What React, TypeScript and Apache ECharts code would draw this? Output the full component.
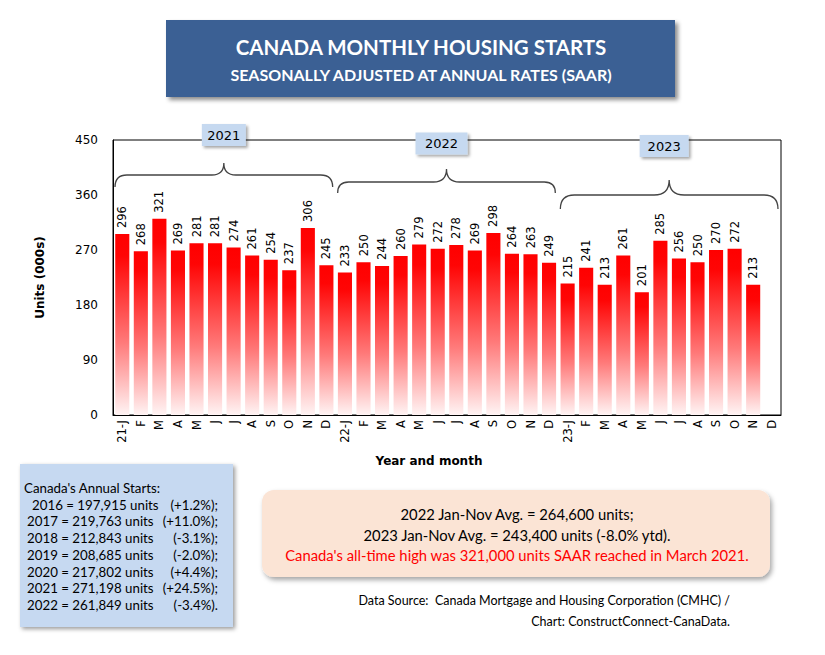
import React, { useEffect, useRef } from "react";
import * as echarts from "echarts";

const categories = [
  "21-J", "F", "M", "A", "M", "J", "J", "A", "S", "O", "N", "D",
  "22-J", "F", "M", "A", "M", "J", "J", "A", "S", "O", "N", "D",
  "23-J", "F", "M", "A", "M", "J", "J", "A", "S", "O", "N", "D",
];
const starts2021 = [296, 268, 321, 269, 281, 281, 274, 261, 254, 237, 306, 245];
const starts2022 = [233, 250, 244, 260, 279, 272, 278, 269, 298, 264, 263, 249];
const starts2023 = [215, 241, 213, 261, 201, 285, 256, 250, 270, 272, 213, null];
const years = ["2021", "2022", "2023"];
const yMin = 0;
const yMax = 450;
const yInterval = 90;

const titleMain = "CANADA MONTHLY HOUSING STARTS";
const titleSub = "SEASONALLY ADJUSTED AT ANNUAL RATES (SAAR)";
const annualHeader = "Canada's Annual Starts:";
const annualUnits = [
  "2016 = 197,915 units",
  "2017 = 219,763 units",
  "2018 = 212,843 units",
  "2019 = 208,685 units",
  "2020 = 217,802 units",
  "2021 = 271,198 units",
  "2022 = 261,849 units",
];
const annualPct = ["(+1.2%);", "(+11.0%);", "(-3.1%);", "(-2.0%);", "(+4.4%);", "(+24.5%);", "(-3.4%)."];
const noteLines = [
  "2022 Jan-Nov Avg. = 264,600 units;",
  "2023 Jan-Nov Avg. = 243,400 units (-8.0% ytd).",
];
const noteRed = "Canada's all-time high was 321,000 units SAAR reached in March 2021.";
const sourceLines = [
  "Data Source:  Canada Mortgage and Housing Corporation (CMHC) /",
  "Chart: ConstructConnect-CanaData.",
];

const W = 825;
const H = 655;
const GRID_LEFT = 113;
const GRID_RIGHT = 781;
const GRID_TOP = 140;
const GRID_BOTTOM = 415;

const braceGeom = [
  { tip: 163, line: 175, end: 187, box: { cy: 135, w: 44 } },
  { tip: 169, line: 182, end: 193, box: { cy: 143.5, w: 52 } },
  { tip: 180, line: 195, end: 209, box: { cy: 146, w: 49 } },
];

function bracePath(x1: number, x2: number, tip: number, line: number, end: number) {
  const xm = (x1 + x2) / 2;
  const h = end - line;
  const t = line - tip;
  return (
    `M${x1} ${end} Q${x1} ${line} ${x1 + h} ${line} L${xm - t} ${line} ` +
    `Q${xm} ${line} ${xm} ${tip} Q${xm} ${line} ${xm + t} ${line} ` +
    `L${x2 - h} ${line} Q${x2} ${line} ${x2} ${end}`
  );
}

export default function App() {
  const ref = useRef<HTMLDivElement>(null);

  useEffect(() => {
    if (!ref.current) return;
    const chart = echarts.init(ref.current, undefined, { renderer: "svg" });
    const values = [...starts2021, ...starts2022, ...starts2023];
    const n = categories.length;
    const cw = (GRID_RIGHT - GRID_LEFT) / n;

    const graphics: any[] = [];

    // title box
    graphics.push({
      type: "rect",
      shape: { x: 166, y: 20, width: 509, height: 77 },
      style: {
        fill: "#3a6194",
        shadowBlur: 4,
        shadowColor: "rgba(0,0,0,0.45)",
        shadowOffsetX: 3,
        shadowOffsetY: 3,
      },
      z: 10,
    });
    graphics.push({
      type: "text",
      x: 421,
      y: 47,
      style: {
        text: titleMain,
        fill: "#ffffff",
        font: "bold 20.5px Lato",
        textAlign: "center",
        textVerticalAlign: "middle",
      },
      z: 11,
    });
    graphics.push({
      type: "text",
      x: 421,
      y: 74,
      style: {
        text: titleSub,
        fill: "#ffffff",
        font: "bold 16px Lato",
        textAlign: "center",
        textVerticalAlign: "middle",
      },
      z: 11,
    });

    // braces and year boxes
    years.forEach((yr, i) => {
      const g = braceGeom[i];
      const x1 = GRID_LEFT + i * 12 * cw + 2;
      const x2 = Math.min(GRID_LEFT + (i + 1) * 12 * cw - 3, GRID_RIGHT);
      const name = "brace" + i;
      echarts.graphic.registerShape(
        name,
        echarts.graphic.extendPath(bracePath(x1, x2, g.tip, g.line, g.end), {}) as any
      );
      graphics.push({
        type: name,
        x: 0,
        y: 0,
        style: { fill: "none", stroke: "#444", lineWidth: 1.3 },
        z: 5,
      });
      const cx = (x1 + x2) / 2 - (i === 0 ? 0 : 5);
      graphics.push({
        type: "rect",
        shape: { x: cx - g.box.w / 2, y: g.box.cy - 11, width: g.box.w, height: 22 },
        style: {
          fill: "#c6d9f0",
          shadowBlur: 3,
          shadowColor: "rgba(0,0,0,0.35)",
          shadowOffsetX: 2,
          shadowOffsetY: 2,
        },
        z: 6,
      });
      graphics.push({
        type: "text",
        x: cx,
        y: g.box.cy,
        style: {
          text: yr,
          fill: "#000",
          font: "13px 'DejaVu Sans'",
          textAlign: "center",
          textVerticalAlign: "middle",
        },
        z: 7,
      });
    });

    // x axis name
    graphics.push({
      type: "text",
      x: 429,
      y: 461,
      style: {
        text: "Year and month",
        fill: "#000",
        font: "bold 12px 'DejaVu Sans'",
        textAlign: "center",
        textVerticalAlign: "middle",
      },
    });

    // left annual box
    graphics.push({
      type: "rect",
      shape: { x: 20, y: 464, width: 213, height: 163 },
      style: {
        fill: "#c6d9f1",
        shadowBlur: 4,
        shadowColor: "rgba(0,0,0,0.4)",
        shadowOffsetX: 2,
        shadowOffsetY: 2,
      },
    });
    graphics.push({
      type: "text",
      x: 24,
      y: 488,
      style: { text: annualHeader, fill: "#000", font: "13.3px Lato", textVerticalAlign: "middle" },
    });
    annualUnits.forEach((t, i) => {
      const y = 488 + (i + 1) * 16.7;
      graphics.push({
        type: "text",
        x: i === 0 ? 32 : 27,
        y,
        style: { text: t, fill: "#000", font: "13.3px Lato", textVerticalAlign: "middle" },
      });
      graphics.push({
        type: "text",
        x: 218,
        y,
        style: {
          text: annualPct[i],
          fill: "#000",
          font: "13.3px Lato",
          textAlign: "right",
          textVerticalAlign: "middle",
        },
      });
    });

    // right note box
    graphics.push({
      type: "rect",
      shape: { x: 262, y: 490, width: 508, height: 87, r: 12 },
      style: {
        fill: "#fbe4d5",
        shadowBlur: 5,
        shadowColor: "rgba(0,0,0,0.35)",
        shadowOffsetX: 2,
        shadowOffsetY: 3,
      },
    });
    noteLines.forEach((t, i) => {
      graphics.push({
        type: "text",
        x: 517,
        y: 514 + i * 20.5,
        style: {
          text: t,
          fill: "#000",
          font: "14.8px Lato",
          textAlign: "center",
          textVerticalAlign: "middle",
        },
      });
    });
    graphics.push({
      type: "text",
      x: 517,
      y: 555,
      style: {
        text: noteRed,
        fill: "#ff0000",
        font: "14.8px Lato",
        textAlign: "center",
        textVerticalAlign: "middle",
      },
    });
    sourceLines.forEach((t, i) => {
      graphics.push({
        type: "text",
        x: 730,
        y: 600 + i * 21.5,
        style: {
          text: t,
          fill: "#000",
          font: "12.5px Lato",
          textAlign: "right",
          textVerticalAlign: "middle",
        },
      });
    });

    chart.setOption({
      animation: false,
      backgroundColor: "#ffffff",
      grid: {
        left: GRID_LEFT,
        right: W - GRID_RIGHT,
        top: GRID_TOP,
        bottom: H - GRID_BOTTOM,
        show: true,
        borderColor: "#000",
        borderWidth: 1,
        backgroundColor: "transparent",
      },
      xAxis: {
        type: "category",
        data: categories,
        axisLine: { show: true, lineStyle: { color: "#000", width: 1 } },
        axisTick: { show: false },
        axisLabel: {
          interval: 0,
          rotate: 90,
          color: "#000",
          fontSize: 11.5,
          fontFamily: "DejaVu Sans",
          margin: 5,
        },
      },
      yAxis: {
        type: "value",
        min: yMin,
        max: yMax,
        interval: yInterval,
        name: "Units (000s)",
        nameLocation: "middle",
        nameGap: 67,
        nameTextStyle: { fontSize: 12, fontWeight: "bold", color: "#000", fontFamily: "DejaVu Sans" },
        axisLine: { show: true, lineStyle: { color: "#000", width: 1 } },
        axisTick: { show: false },
        splitLine: { show: false },
        axisLabel: { color: "#000", fontSize: 12, fontFamily: "DejaVu Sans", margin: 15 },
      },
      series: [
        {
          type: "bar",
          data: values,
          barCategoryGap: "24%",
          itemStyle: {
            color: new echarts.graphic.LinearGradient(0, 0, 0, 1, [
              { offset: 0, color: "#ff0000" },
              { offset: 0.12, color: "#ff0505" },
              { offset: 0.6, color: "#ff7a7a" },
              { offset: 1, color: "#fff4f4" },
            ]),
          },
          label: {
            show: true,
            position: "top",
            rotate: 90,
            align: "left",
            verticalAlign: "middle",
            distance: 6,
            color: "#000",
            fontSize: 11.5,
            fontFamily: "DejaVu Sans",
          },
        },
      ],
      graphic: graphics,
    });

    return () => chart.dispose();
  }, []);

  return (
    <div
      ref={ref}
      style={{ position: "absolute", left: 0, top: 0, width: W, height: H }}
    />
  );
}
